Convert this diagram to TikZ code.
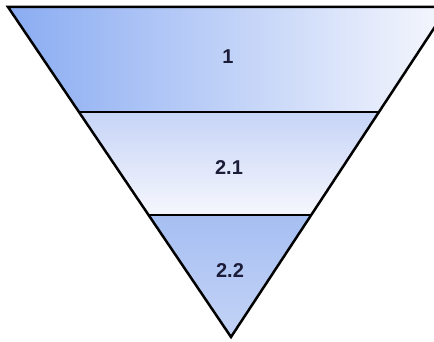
\documentclass[tikz,border=0pt]{standalone}
\usepackage{fontspec}
\setmainfont{Liberation Sans}
\definecolor{txt}{HTML}{1C1C38}
\definecolor{blueA}{HTML}{8AACF2}
\definecolor{blueB}{HTML}{F6F7FD}
\definecolor{blueC}{HTML}{C6D4F7}
\definecolor{blueD}{HTML}{A6BFF2}
\definecolor{blueE}{HTML}{C4D3F6}
\tikzset{
  band/.style={draw=black, line width=2.5pt, line join=miter},
  lbl/.style={font=\bfseries\fontsize{20}{24}\selectfont, text=txt, inner sep=0pt}
}
\begin{document}
\begin{tikzpicture}[x=1pt,y=-1pt]
\useasboundingbox (0,0) rectangle (434,342);
\fill[white] (0,0) rectangle (434,342);
\clip (0,0) rectangle (434,342);
\coordinate (tl) at (8,7);
\coordinate (tr) at (448,7);
\coordinate (ap) at (231,337);
\coordinate (ml) at (79,112);
\coordinate (mr) at (379,112);
\coordinate (bl) at (148.6,215);
\coordinate (br) at (311,215);
% fills
\shade[left color=blueA, right color=blueB] (tl) -- (tr) -- (mr) -- (ml) -- cycle;
\shade[top color=blueC, bottom color=blueB] (ml) -- (mr) -- (br) -- (bl) -- cycle;
\shade[top color=blueD, bottom color=blueE] (bl) -- (br) -- (ap) -- cycle;
% outlines
\draw[band] (tl) -- (tr) -- (ap) -- cycle;
\draw[band] (ml) -- (mr);
\draw[band] (bl) -- (br);
\node[lbl] (l1) at (228,57) {1};
\node[lbl] (l21) at (229,168) {2.1};
\node[lbl] (l22) at (230,271) {2.2};
\end{tikzpicture}
\end{document}
